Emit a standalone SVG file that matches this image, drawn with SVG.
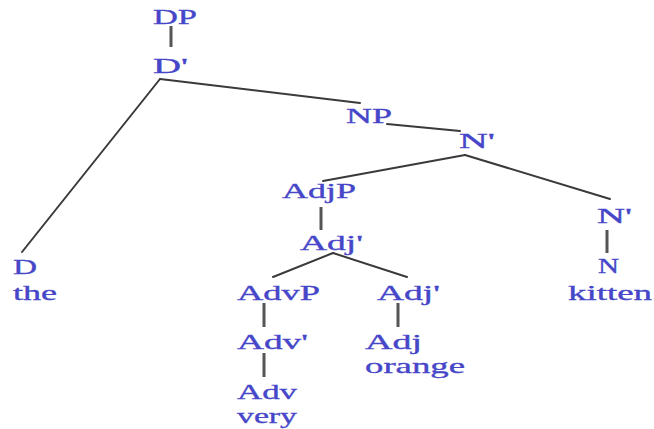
<svg xmlns="http://www.w3.org/2000/svg" width="654" height="429" viewBox="0 0 654 429">
<style>
.t{font-family:"Liberation Serif","Times New Roman",serif;font-size:22px;fill:#4646c8;stroke:#4646c8;stroke-width:0.35;}
.e{stroke:#3a3a3a;stroke-width:2;fill:none;stroke-linecap:round;}
.v{stroke:#555;stroke-width:3;fill:none;}
</style>
<rect width="654" height="429" fill="#ffffff"/>
<g id="connectors">
<line class="v" x1="171" y1="26" x2="171" y2="47"/>
<line class="e" x1="160" y1="79" x2="22" y2="252"/>
<line class="e" x1="160" y1="79" x2="360" y2="103"/>
<line class="e" x1="387" y1="124" x2="460" y2="131"/>
<line class="e" x1="465" y1="155" x2="323" y2="181"/>
<line class="e" x1="465" y1="155" x2="610" y2="199"/>
<line class="v" x1="321" y1="207" x2="321" y2="230"/>
<line class="e" x1="333" y1="253" x2="273" y2="277"/>
<line class="e" x1="333" y1="253" x2="407" y2="277"/>
<line class="v" x1="264" y1="303" x2="264" y2="327"/>
<line class="v" x1="264" y1="353" x2="264" y2="377"/>
<line class="v" x1="398" y1="303" x2="398" y2="327"/>
<line class="v" x1="607" y1="230" x2="607" y2="253"/>
</g>
<g id="DP"><text class="t" x="153" y="24" textLength="44" lengthAdjust="spacingAndGlyphs">DP</text></g>
<g id="Dbar"><text class="t" x="153" y="73" textLength="35" lengthAdjust="spacingAndGlyphs">D'</text></g>
<g id="NP"><text class="t" x="346" y="123" textLength="46" lengthAdjust="spacingAndGlyphs">NP</text></g>
<g id="Nbar1"><text class="t" x="459" y="148" textLength="36" lengthAdjust="spacingAndGlyphs">N'</text></g>
<g id="AdjP"><text class="t" x="282" y="198" textLength="74" lengthAdjust="spacingAndGlyphs">AdjP</text></g>
<g id="Adjbar1"><text class="t" x="300" y="250" textLength="63" lengthAdjust="spacingAndGlyphs">Adj'</text></g>
<g id="Nbar2"><text class="t" x="597" y="223" textLength="35" lengthAdjust="spacingAndGlyphs">N'</text></g>
<g id="N"><text class="t" x="598" y="273" textLength="21" lengthAdjust="spacingAndGlyphs">N</text><text class="t" x="568" y="300" textLength="84" lengthAdjust="spacingAndGlyphs">kitten</text></g>
<g id="D"><text class="t" x="13" y="274" textLength="24" lengthAdjust="spacingAndGlyphs">D</text><text class="t" x="13" y="300" textLength="44" lengthAdjust="spacingAndGlyphs">the</text></g>
<g id="AdvP"><text class="t" x="237" y="300" textLength="83" lengthAdjust="spacingAndGlyphs">AdvP</text></g>
<g id="Adjbar2"><text class="t" x="377" y="300" textLength="63" lengthAdjust="spacingAndGlyphs">Adj'</text></g>
<g id="Advbar"><text class="t" x="237" y="349" textLength="71" lengthAdjust="spacingAndGlyphs">Adv'</text></g>
<g id="Adj"><text class="t" x="365" y="349" textLength="57" lengthAdjust="spacingAndGlyphs">Adj</text><text class="t" x="365" y="373" textLength="100" lengthAdjust="spacingAndGlyphs">orange</text></g>
<g id="Adv"><text class="t" x="237" y="399" textLength="60" lengthAdjust="spacingAndGlyphs">Adv</text><text class="t" x="237" y="423" textLength="60" lengthAdjust="spacingAndGlyphs">very</text></g>
</svg>
